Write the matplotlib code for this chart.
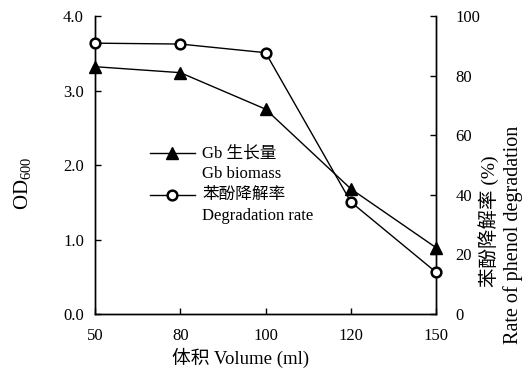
import matplotlib
matplotlib.use("Agg")
import matplotlib.pyplot as plt
from matplotlib.lines import Line2D

plt.rcParams['font.family'] = ['Liberation Serif', 'Noto Sans CJK SC']
plt.rcParams['mathtext.fontset'] = 'custom'
plt.rcParams['mathtext.rm'] = 'Liberation Serif'
plt.rcParams['mathtext.it'] = 'Liberation Serif:italic'

volumes = ["50", "80", "100", "120", "150"]
biomass_od = [3.32, 3.24, 2.75, 1.68, 0.89]
degradation_rate = [90.9, 90.6, 87.7, 37.6, 14.0]
left_ticks = [0.0, 1.0, 2.0, 3.0, 4.0]
right_ticks = [0, 20, 40, 60, 80, 100]

fig = plt.figure(figsize=(5.28, 3.82), dpi=100)
ax = fig.add_axes([0.180, 0.178, 0.646, 0.780])
ax2 = ax.twinx()

x = list(range(len(volumes)))
ax.plot(x, biomass_od, color='black', lw=1.0, marker='^', ms=8.5,
        mfc='black', mec='black', clip_on=False, zorder=5)
ax2.plot(x, degradation_rate, color='black', lw=1.0, marker='o', ms=7,
         mfc='white', mec='black', mew=1.8, clip_on=False, zorder=5)

ax.set_xlim(0, len(volumes) - 1)
ax.set_ylim(0, 4.0)
ax2.set_ylim(0, 100)
ax.set_xticks(x)
ax.set_xticklabels(volumes)
ax.set_yticks(left_ticks)
ax.set_yticklabels([f"{v:.1f}" for v in left_ticks])
ax2.set_yticks(right_ticks)
ax2.set_yticklabels([str(v) for v in right_ticks])

for a in (ax, ax2):
    a.spines['top'].set_visible(False)
    for s in a.spines.values():
        s.set_linewidth(1.0)
ax.tick_params(axis='both', direction='in', length=4, width=1.0, labelsize=12, pad=8)
ax.tick_params(axis='x', pad=10)
ax2.tick_params(axis='y', direction='in', length=4, width=1.0, labelsize=12, pad=14)

fig.text(0.455, 0.063, "体积 Volume (ml)", fontsize=13.5, ha='center', va='center')
fig.text(0.042, 0.521, "OD$_{\\mathit{600}}$", rotation=90, fontsize=15, ha='center', va='center')

fig.text(0.925, 0.42, "苯酚降解率 (%)", rotation=90, fontsize=14, ha='center', va='center')
fig.text(0.972, 0.385, "Rate of phenol degradation", rotation=90, fontsize=14.5, ha='center', va='center')

# legend drawn manually
ax.add_line(Line2D([0.161, 0.293], [0.540, 0.540], transform=ax.transAxes, color='black', lw=1.0))
ax.add_line(Line2D([0.227], [0.540], transform=ax.transAxes, color='black', marker='^', ms=8.5, mfc='black'))
ax.add_line(Line2D([0.161, 0.293], [0.399, 0.399], transform=ax.transAxes, color='black', lw=1.0))
ax.add_line(Line2D([0.227], [0.399], transform=ax.transAxes, color='black', marker='o', ms=7,
                   mfc='white', mew=1.8))
ax.text(0.314, 0.540, "Gb 生长量", transform=ax.transAxes, fontsize=12, va='center')
ax.text(0.314, 0.470, "Gb biomass", transform=ax.transAxes, fontsize=12, va='center')
ax.text(0.314, 0.399, "苯酚降解率", transform=ax.transAxes, fontsize=12, va='center')
ax.text(0.314, 0.329, "Degradation rate", transform=ax.transAxes, fontsize=12, va='center')

fig.savefig("out.png", dpi=100)
